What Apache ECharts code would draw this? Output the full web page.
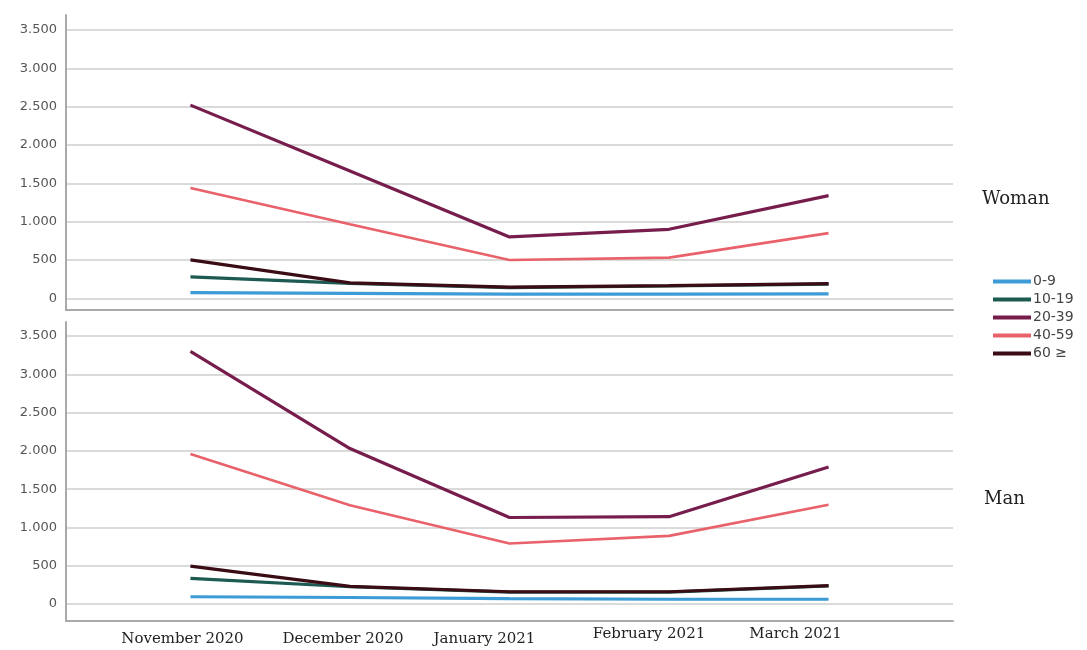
<!DOCTYPE html>
<html>
<head>
<meta charset="utf-8">
<script src="https://cdn.jsdelivr.net/npm/echarts@6/dist/echarts.min.js"></script>
<style>
  html, body { margin: 0; padding: 0; background: #fff; }
  #show_char { width: 1087px; height: 650px; }
</style>
</head>
<body>
<div id="show_char"></div>
<script>
var months = ['November 2020', 'December 2020', 'January 2021', 'February 2021', 'March 2021'];
var ageGroups = ['0-9', '10-19', '20-39', '40-59', '60 ≥'];
var yTicks = [0, 500, 1000, 1500, 2000, 2500, 3000, 3500];

var woman_0_9   = [75, 65, 55, 55, 58];
var woman_10_19 = [280, 195, 140, 160, 185];
var woman_20_39 = [2520, 1660, 800, 900, 1340];
var woman_40_59 = [1440, 965, 500, 530, 850];
var woman_60    = [500, 200, 145, 165, 190];

var man_0_9   = [95, 85, 70, 62, 62];
var man_10_19 = [335, 225, 155, 155, 235];
var man_20_39 = [3300, 2030, 1130, 1140, 1790];
var man_40_59 = [1960, 1290, 790, 890, 1295];
var man_60    = [495, 230, 160, 160, 240];

var lineColors = ['#3d9bd6', '#1d5a52', '#761d4c', '#e9626b', '#3a0c14'];
var labelShift = [16, 14, 50, 40, 66];   // labels sit a bit left of the points
var labelDrop = [5, 5, 5, 0, 0];

function fmtNum(v) {
    if (v >= 1000) {
        var r = String(v % 1000);
        while (r.length < 3) r = '0' + r;
        return Math.floor(v / 1000) + '.' + r;
    }
    return String(v);
}

function toPoints(arr) {
    return arr.map(function (v, i) { return [i, v]; });
}

var rich = {};
for (var k = 0; k < months.length; k++) {
    rich['m' + k] = {
        fontFamily: 'DejaVu Serif',
        fontSize: 15,
        color: '#222',
        padding: [labelDrop[k], labelShift[k], 0, 0]
    };
}

function makeY(idx, min, max) {
    return {
        gridIndex: idx,
        type: 'value',
        min: min,
        max: max,
        axisLine: { show: true, onZero: false, lineStyle: { color: '#a9a9a9', width: 2 } },
        axisTick: { show: false, customValues: yTicks },
        axisLabel: {
            customValues: yTicks,
            formatter: fmtNum,
            color: '#555',
            fontFamily: 'DejaVu Sans',
            fontSize: 13,
            margin: 9
        },
        splitLine: { show: true, lineStyle: { color: '#dadada', width: 2 } }
    };
}

function makeX(idx, withLabels) {
    return {
        gridIndex: idx,
        type: 'value',
        min: -0.78,
        max: 4.78,
        axisLine: { show: true, onZero: false, lineStyle: { color: '#a9a9a9', width: 2 } },
        axisTick: { show: false },
        splitLine: { show: false },
        axisLabel: withLabels ? {
            customValues: [0, 1, 2, 3, 4],
            margin: 6,
            formatter: function (v) { return '{m' + v + '|' + months[v] + '}'; },
            rich: rich
        } : { show: false }
    };
}

var womanData = [woman_0_9, woman_10_19, woman_20_39, woman_40_59, woman_60];
var manData = [man_0_9, man_10_19, man_20_39, man_40_59, man_60];

var series = [];
[womanData, manData].forEach(function (panel, p) {
    panel.forEach(function (arr, i) {
        series.push({
            name: ageGroups[i],
            type: 'line',
            xAxisIndex: p,
            yAxisIndex: p,
            symbol: 'none',
            smooth: false,
            silent: true,
            lineStyle: { color: lineColors[i], width: i === 3 ? 2.6 : 3.2 },
            itemStyle: { color: lineColors[i] },
            data: toPoints(arr)
        });
    });
});

var option = {
    backgroundColor: '#fff',
    animation: false,
    title: [
        { text: 'Woman', left: 977, top: 185,
          textStyle: { fontFamily: 'DejaVu Serif', fontSize: 18, fontWeight: 'normal', color: '#222' } },
        { text: 'Man', left: 979, top: 485,
          textStyle: { fontFamily: 'DejaVu Serif', fontSize: 18, fontWeight: 'normal', color: '#222' } }
    ],
    legend: {
        orient: 'vertical',
        left: 988,
        top: 268,
        icon: 'rect',
        itemWidth: 38,
        itemHeight: 4,
        itemGap: 1,
        selectedMode: false,
        data: ageGroups,
        textStyle: { fontFamily: 'DejaVu Sans', fontSize: 14, lineHeight: 17, color: '#444', padding: [0, 0, 0, -3] }
    },
    grid: [
        { left: 66, right: 134, top: 15, height: 295 },
        { left: 66, right: 134, top: 322, height: 299 }
    ],
    xAxis: [makeX(0, false), makeX(1, true)],
    yAxis: [makeY(0, -153, 3696), makeY(1, -222, 3683)],
    series: series
};

var myChart = echarts.init(document.getElementById('show_char'));
myChart.setOption(option);
</script>
</body>
</html>
